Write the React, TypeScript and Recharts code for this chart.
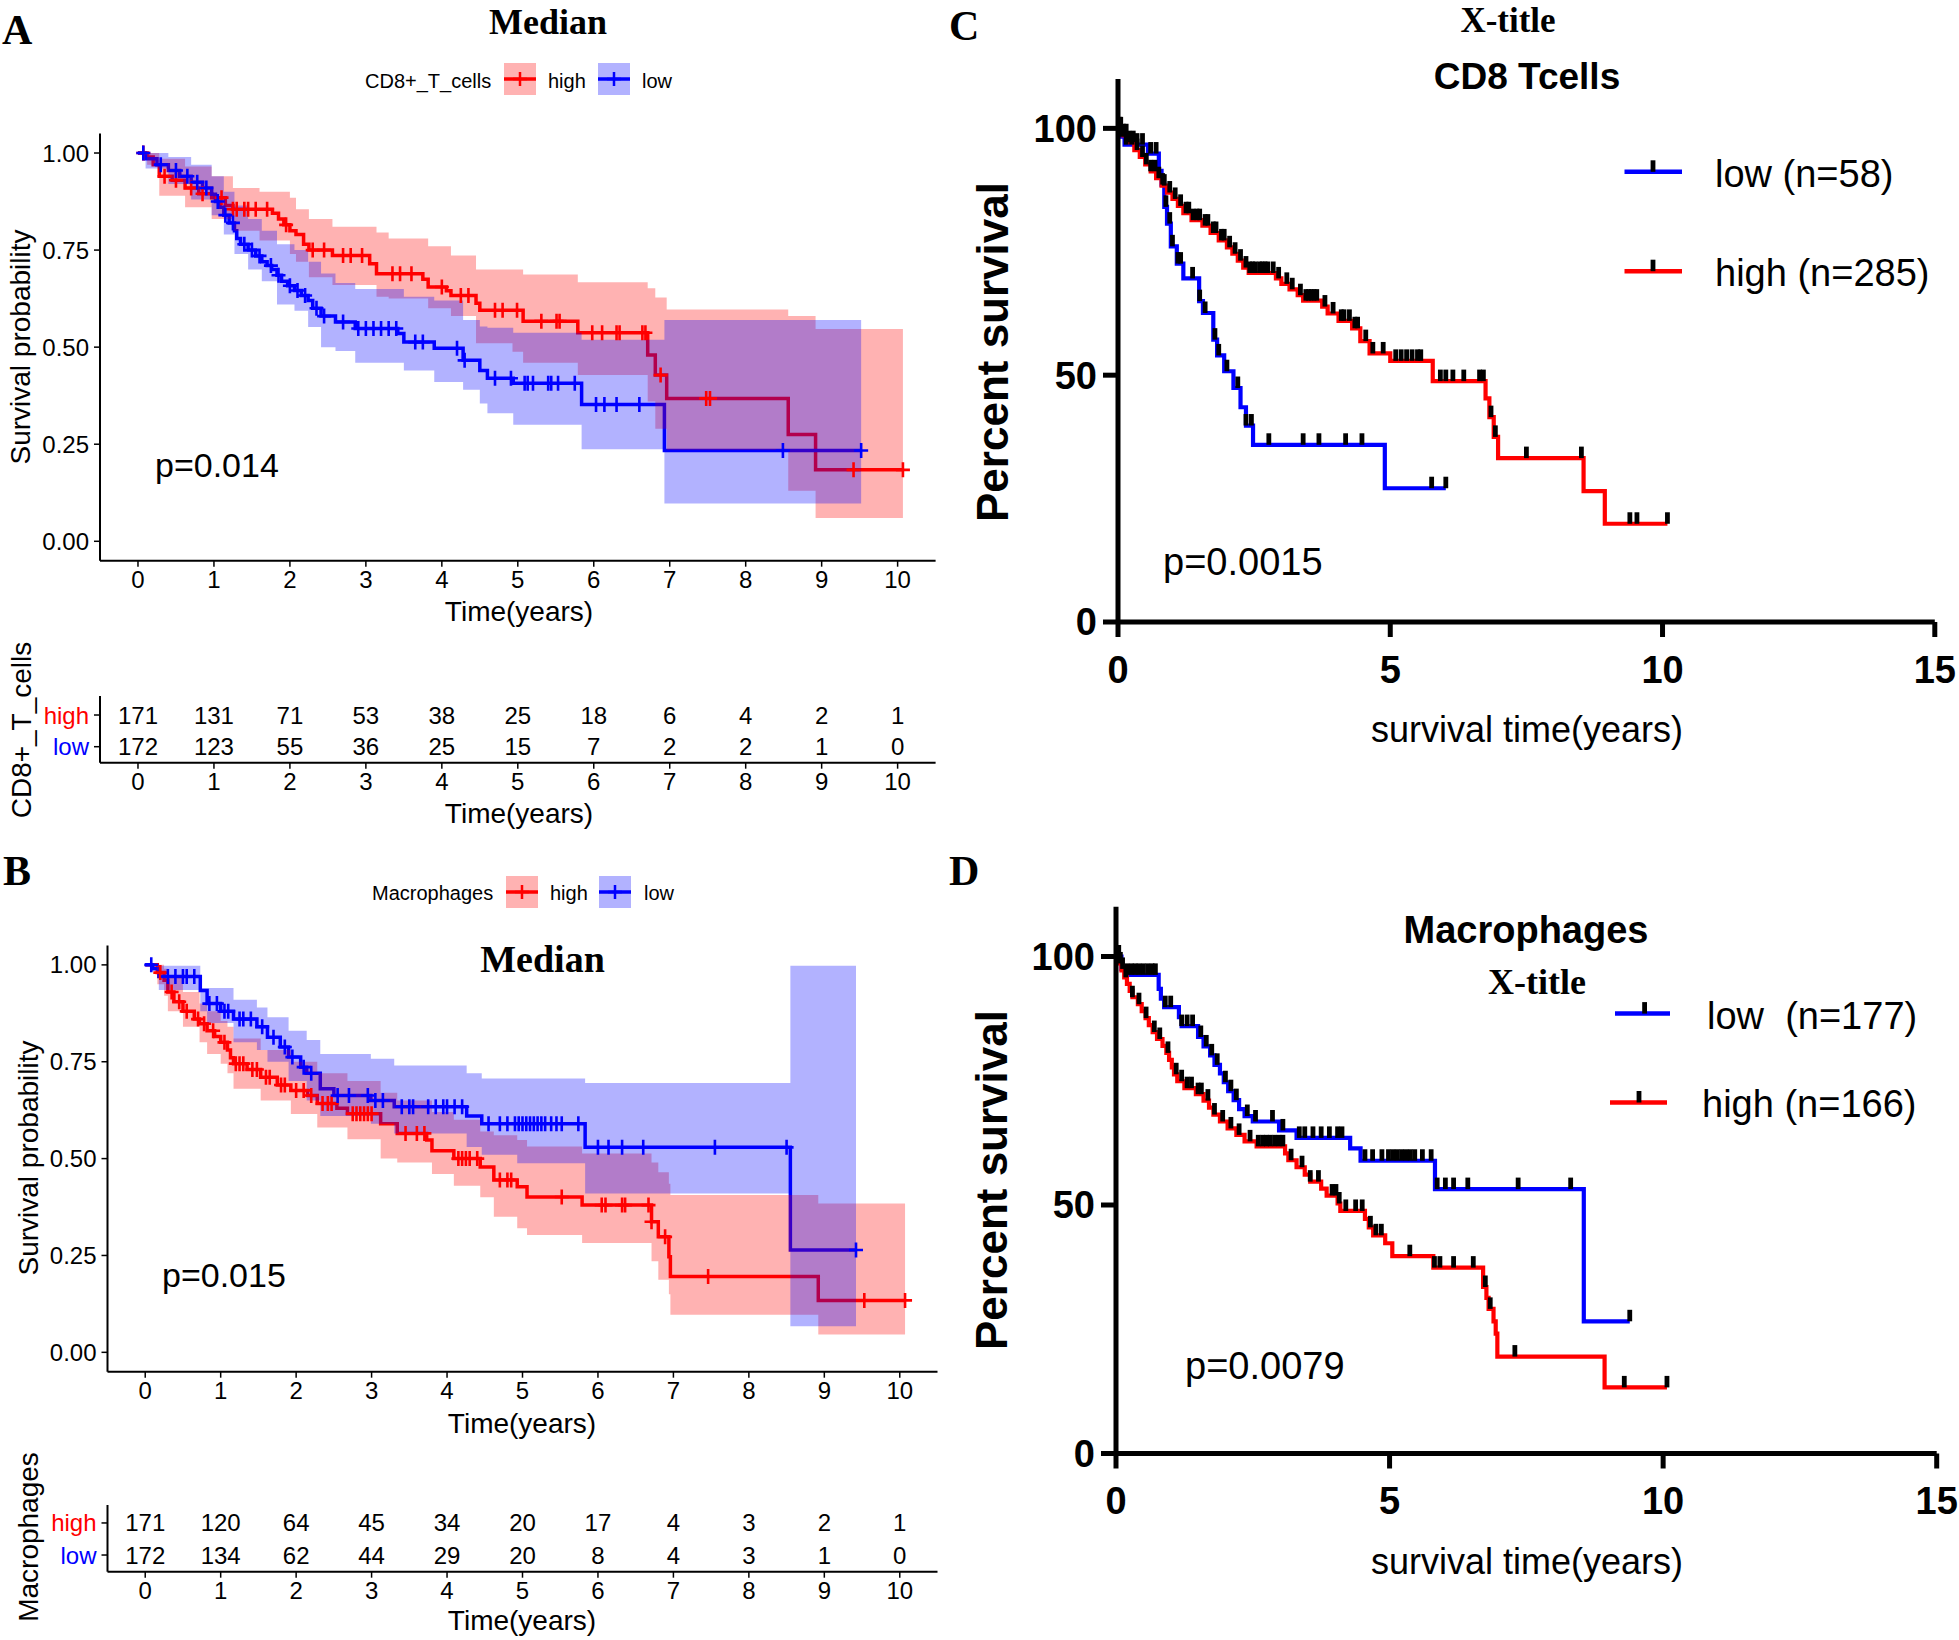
import React from 'react';
import { ComposedChart, Line, Area, Scatter, XAxis, YAxis } from 'recharts';

const SANS = '"Liberation Sans", Arial, Helvetica, sans-serif';
const SERIF = '"Liberation Serif", "Times New Roman", Times, serif';
const RED = '#FF0000';
const BLUE = '#0000FF';

// ---------------- Panel A : CD8+_T_cells (survminer) ----------------
const A_HIGH_STEPS = [[0,1],[0.12,0.99],[0.2,0.97],[0.28,0.94],[0.45,0.93],[0.62,0.91],[0.8,0.895],[0.97,0.885],[1.15,0.865],[1.25,0.855],[1.77,0.845],[1.85,0.83],[1.92,0.815],[2.0,0.8],[2.08,0.79],[2.18,0.765],[2.25,0.75],[2.56,0.736],[3.05,0.715],[3.14,0.689],[3.75,0.675],[3.82,0.655],[4.06,0.645],[4.12,0.633],[4.45,0.613],[4.5,0.595],[5.07,0.567],[5.79,0.537],[6.71,0.48],[6.81,0.428],[6.96,0.368],[8.56,0.275],[8.92,0.184],[10.07,0.184]];
const A_LOW_STEPS = [[0,1],[0.1,0.985],[0.25,0.97],[0.4,0.955],[0.55,0.94],[0.7,0.925],[0.85,0.91],[0.97,0.894],[1.02,0.875],[1.08,0.86],[1.13,0.84],[1.2,0.82],[1.27,0.8],[1.3,0.78],[1.35,0.765],[1.45,0.75],[1.55,0.735],[1.63,0.72],[1.7,0.71],[1.76,0.7],[1.83,0.685],[1.89,0.67],[1.97,0.658],[2.06,0.646],[2.15,0.633],[2.24,0.62],[2.3,0.6],[2.41,0.58],[2.6,0.565],[2.86,0.548],[3.42,0.535],[3.5,0.513],[3.9,0.497],[4.28,0.466],[4.5,0.44],[4.6,0.42],[4.94,0.407],[5.84,0.352],[6.93,0.234],[9.52,0.234]];
const A_HIGH_BAND = [[0,1,1],[0.12,0.97,1],[0.28,0.89,0.985],[0.62,0.86,0.965],[0.97,0.83,0.94],[1.25,0.8,0.91],[1.6,0.775,0.9],[2.0,0.74,0.885],[2.08,0.72,0.855],[2.25,0.68,0.83],[2.56,0.66,0.81],[3.14,0.63,0.795],[3.3,0.625,0.78],[3.82,0.6,0.76],[4.12,0.58,0.736],[4.45,0.51,0.7],[4.93,0.488,0.7],[5.07,0.46,0.687],[5.79,0.428,0.667],[6.71,0.36,0.652],[6.81,0.29,0.628],[6.96,0.235,0.597],[8.56,0.13,0.58],[8.92,0.06,0.547],[10.07,0.06,0.547]];
const A_LOW_BAND = [[0,1,1],[0.1,0.96,1],[0.4,0.92,0.99],[0.7,0.88,0.97],[0.97,0.84,0.94],[1.13,0.79,0.9],[1.27,0.74,0.865],[1.45,0.7,0.83],[1.63,0.67,0.8],[1.83,0.61,0.765],[2.06,0.594,0.75],[2.24,0.552,0.72],[2.41,0.5,0.69],[2.6,0.49,0.665],[2.86,0.46,0.65],[3.5,0.44,0.63],[3.9,0.41,0.62],[4.28,0.39,0.57],[4.5,0.355,0.553],[4.6,0.33,0.55],[4.94,0.3,0.537],[5.84,0.237,0.519],[6.93,0.097,0.57],[9.52,0.097,0.57]];
const A_HIGH_CENSOR = [0.07,0.35,0.5,0.7,0.85,1.1,1.25,1.3,1.4,1.45,1.55,1.7,1.95,2.3,2.45,2.7,2.8,2.95,3.35,3.45,3.6,4.0,4.25,4.35,4.7,4.8,4.99,5.31,5.51,5.55,5.98,6.11,6.3,6.34,6.64,6.68,6.88,7.48,7.53,9.42,10.07];
const A_LOW_CENSOR = [0.07,0.3,0.5,0.65,0.78,0.9,1.05,1.15,1.25,1.4,1.5,1.6,1.75,1.85,2.0,2.1,2.2,2.35,2.45,2.7,2.9,3.0,3.1,3.2,3.3,3.4,3.65,3.75,4.2,4.3,4.7,4.91,5.09,5.13,5.2,5.4,5.44,5.53,5.75,6.03,6.14,6.3,6.6,8.49,9.52];
const A_RISK_HIGH = [171,131,71,53,38,25,18,6,4,2,1];
const A_RISK_LOW = [172,123,55,36,25,15,7,2,2,1,0];

// ---------------- Panel B : Macrophages (survminer) ----------------
const B_HIGH_STEPS = [[0,1],[0.16,0.98],[0.25,0.96],[0.3,0.93],[0.38,0.905],[0.5,0.88],[0.65,0.86],[0.72,0.848],[0.82,0.83],[0.92,0.815],[1.0,0.8],[1.09,0.78],[1.13,0.76],[1.17,0.745],[1.35,0.73],[1.53,0.71],[1.75,0.69],[1.93,0.676],[2.15,0.663],[2.28,0.642],[2.54,0.63],[2.68,0.616],[3.12,0.59],[3.34,0.565],[3.73,0.548],[3.8,0.52],[4.09,0.5],[4.44,0.478],[4.62,0.445],[4.93,0.4275],[5.06,0.401],[5.79,0.38],[6.71,0.337],[6.8,0.298],[6.94,0.247],[6.96,0.196],[8.92,0.134],[10.07,0.134]];
const B_LOW_STEPS = [[0,1],[0.1,0.99],[0.18,0.97],[0.73,0.934],[0.82,0.9],[1.0,0.88],[1.17,0.86],[1.48,0.84],[1.62,0.813],[1.79,0.788],[1.9,0.762],[2.06,0.736],[2.14,0.72],[2.32,0.68],[2.5,0.663],[2.99,0.65],[3.3,0.634],[4.26,0.61],[4.46,0.59],[5.83,0.529],[8.55,0.264],[9.42,0.264]];
const B_HIGH_BAND = [[0,1,1],[0.16,0.95,1],[0.25,0.92,0.99],[0.3,0.88,0.97],[0.5,0.84,0.93],[0.72,0.8,0.9],[0.82,0.77,0.88],[1.0,0.745,0.855],[1.09,0.72,0.84],[1.17,0.68,0.81],[1.53,0.65,0.78],[1.93,0.615,0.75],[2.28,0.58,0.72],[2.68,0.55,0.7],[3.12,0.5,0.67],[3.34,0.49,0.65],[3.8,0.46,0.62],[4.09,0.43,0.6],[4.44,0.4,0.57],[4.62,0.35,0.56],[4.93,0.32,0.548],[5.06,0.303,0.531],[5.79,0.282,0.513],[6.71,0.235,0.49],[6.8,0.187,0.465],[6.94,0.15,0.435],[6.96,0.097,0.406],[8.92,0.046,0.384],[10.07,0.046,0.384]];
const B_LOW_BAND = [[0,1,1],[0.18,0.935,0.998],[0.73,0.88,0.94],[0.82,0.85,0.94],[1.17,0.8,0.91],[1.48,0.78,0.89],[1.62,0.75,0.865],[1.9,0.7,0.83],[2.14,0.65,0.806],[2.32,0.61,0.77],[2.99,0.59,0.758],[3.3,0.565,0.74],[4.26,0.53,0.72],[4.46,0.51,0.707],[4.93,0.488,0.707],[5.83,0.41,0.695],[8.55,0.067,0.998],[9.42,0.067,0.998]];
const B_HIGH_CENSOR = [0.2,0.35,0.45,0.55,0.7,0.78,0.9,1.05,1.2,1.25,1.3,1.42,1.48,1.6,1.65,1.8,1.85,2.0,2.1,2.2,2.35,2.42,2.47,2.75,2.8,2.85,2.9,2.95,3.0,3.45,3.6,3.7,4.15,4.2,4.25,4.3,4.4,4.7,4.8,4.85,5.52,6.05,6.1,6.32,6.36,6.67,6.71,6.89,7.46,9.53,10.07];
const B_LOW_CENSOR = [0.08,0.3,0.4,0.5,0.55,0.65,0.85,0.95,1.05,1.1,1.25,1.3,1.4,1.55,1.7,1.85,1.95,2.1,2.2,2.55,2.7,2.95,3.05,3.15,3.4,3.5,3.55,3.75,3.85,3.95,4.0,4.1,4.2,4.55,4.7,4.8,4.9,4.95,5.0,5.05,5.1,5.15,5.2,5.25,5.3,5.38,5.45,5.52,5.74,6.0,6.14,6.32,6.6,7.55,8.5,9.42];
const B_RISK_HIGH = [171,120,64,45,34,20,17,4,3,2,1];
const B_RISK_LOW = [172,134,62,44,29,20,8,4,3,1,0];

// ---------------- Panel C : CD8 Tcells (Prism) ----------------
const C_LOW_STEPS = [[0,100],[0.05,98.3],[0.12,96.7],[0.55,94.9],[0.75,91.4],[0.8,88.6],[0.85,84.1],[0.9,80.7],[0.97,76.1],[1.08,72.6],[1.2,69.6],[1.49,65.0],[1.56,62.6],[1.75,57.2],[1.82,54.0],[1.95,50.8],[2.12,47.4],[2.25,43.5],[2.35,39.8],[2.48,35.9],[4.9,27.1],[6.02,27.1]];
const C_HIGH_STEPS = [[0,100],[0.1,98.6],[0.2,97.2],[0.3,95.6],[0.4,94.2],[0.5,92.7],[0.6,91.3],[0.7,89.9],[0.8,88.4],[0.9,87],[1.0,85.7],[1.1,84.3],[1.2,82.8],[1.35,81.4],[1.55,80.3],[1.7,78.8],[1.85,77.3],[2.0,75.9],[2.1,74.6],[2.2,73.2],[2.3,71.8],[2.4,70.7],[2.9,69.6],[3.0,68.5],[3.15,67.4],[3.3,66.2],[3.4,65.1],[3.75,63.9],[3.85,62.5],[4.05,61.0],[4.3,59.5],[4.45,56.9],[4.62,54.4],[5.0,52.9],[5.78,48.8],[6.75,45.3],[6.82,41.5],[6.9,37.5],[6.98,33.2],[8.55,26.5],[8.94,19.9],[10.09,19.9]];
const C_LOW_CENSOR = [0.03,0.08,0.15,0.25,0.35,0.45,0.6,0.7,0.82,0.88,0.95,1.0,1.1,1.15,1.37,1.5,1.6,1.78,1.85,2.0,2.2,2.35,2.45,2.77,3.4,3.69,4.18,4.48,5.76,6.02];
const C_HIGH_CENSOR = [0.05,0.1,0.15,0.2,0.28,0.35,0.45,0.52,0.6,0.68,0.75,0.85,0.95,1.05,1.15,1.25,1.3,1.38,1.45,1.5,1.6,1.65,1.75,1.8,1.9,1.95,2.05,2.15,2.25,2.35,2.42,2.47,2.52,2.6,2.65,2.7,2.75,2.85,2.95,3.1,3.2,3.35,3.45,3.5,3.55,3.6,3.65,3.8,3.95,4.1,4.15,4.25,4.35,4.4,4.55,4.68,4.87,5.1,5.2,5.3,5.4,5.5,5.56,5.92,6.02,6.15,6.35,6.64,6.71,6.85,6.93,7.5,8.51,9.4,9.53,10.09];

// ---------------- Panel D : Macrophages (Prism) ----------------
const D_LOW_STEPS = [[0,100],[0.1,97.5],[0.2,96.3],[0.78,93.5],[0.82,91.5],[0.88,89.8],[1.15,87.8],[1.2,86],[1.5,83.8],[1.6,81.9],[1.72,80.1],[1.8,78.2],[1.9,76.5],[1.97,74.7],[2.05,72.9],[2.15,71.1],[2.25,69.3],[2.35,67.9],[2.5,66.8],[2.98,65.0],[3.3,63.5],[4.28,61.4],[4.47,58.9],[5.83,53.2],[8.55,26.6],[9.39,26.6]];
const D_HIGH_STEPS = [[0,100],[0.05,98.6],[0.1,97.2],[0.15,95.8],[0.2,94.5],[0.25,93.1],[0.3,91.8],[0.4,90.4],[0.47,89],[0.54,87.6],[0.6,86.2],[0.67,84.8],[0.75,83.4],[0.85,82],[0.92,80.6],[0.97,79.2],[1.02,77.7],[1.06,76.3],[1.12,74.9],[1.25,73.5],[1.46,72.3],[1.6,71],[1.7,69.6],[1.78,68.2],[1.9,66.8],[2.04,65.4],[2.2,64.1],[2.35,62.8],[2.57,61.8],[3.09,60.4],[3.15,59],[3.3,57.6],[3.45,56.1],[3.55,54.7],[3.75,53.3],[3.85,51.9],[4.05,50.3],[4.1,48.8],[4.55,47.2],[4.62,45.5],[4.7,43.9],[4.92,42.3],[5.05,39.7],[5.8,37.4],[6.71,33.5],[6.77,31.3],[6.81,29.1],[6.9,26.6],[6.94,24.1],[6.97,19.5],[8.93,13.3],[10.07,13.3]];
const D_LOW_CENSOR = [0.05,0.12,0.2,0.28,0.35,0.42,0.5,0.58,0.66,0.72,0.9,1.0,1.2,1.3,1.4,1.55,1.65,1.75,1.85,2.0,2.1,2.2,2.4,2.55,2.86,3.05,3.35,3.45,3.6,3.75,3.9,4.05,4.13,4.55,4.69,4.86,4.98,5.06,5.14,5.22,5.3,5.38,5.46,5.6,5.76,5.87,6.02,6.17,6.43,7.35,8.31,9.39];
const D_HIGH_CENSOR = [0.08,0.18,0.3,0.42,0.55,0.7,0.8,0.95,1.1,1.2,1.3,1.38,1.5,1.56,1.68,1.8,1.95,2.1,2.25,2.45,2.6,2.68,2.75,2.82,2.9,2.98,3.05,3.2,3.4,3.55,3.7,3.95,4.02,4.08,4.2,4.38,4.5,4.65,4.75,4.85,5.37,5.82,5.92,6.17,6.53,6.75,6.84,7.29,9.29,10.07];

const YEARS = [0,1,2,3,4,5,6,7,8,9,10];
const SURV_TICKS = [0, 0.25, 0.5, 0.75, 1];
const PRISM_X_TICKS = [0, 5, 10, 15];
const PRISM_Y_TICKS = [0, 50, 100];

// ---------------- helpers ----------------
function stepAt(steps: number[][], t: number) {
  let v = steps[0][1];
  for (const [x, y] of steps) {
    if (x <= t + 1e-9) v = y; else break;
  }
  return v;
}
const toLine = (steps: number[][]) => steps.map(([t, s]) => ({ t, s }));
const toBand = (b: number[][]) => b.map(([t, lo, hi]) => ({ t, band: [lo, hi] }));
const toCensor = (times: number[], steps: number[][]) => times.map((t) => ({ t, s: stepAt(steps, t) }));

function marginFor(frame: any, plot: any, yW: number, xH: number) {
  return {
    left: plot.x0 - frame.left - yW,
    top: plot.y0 - frame.top,
    right: frame.left + frame.width - plot.x1,
    bottom: frame.top + frame.height - plot.y1 - xH,
  };
}

const plusShape = (color: string) => (p: any) => {
  const { cx, cy } = p;
  if (cx == null || cy == null) return <g />;
  return <path d={`M${cx - 7},${cy}H${cx + 7}M${cx},${cy - 7.5}V${cy + 7.5}`} stroke={color} strokeWidth={2.6} fill="none" />;
};
const redPlus = plusShape(RED);
const bluePlus = plusShape(BLUE);

const prismTick = (p: any) => {
  const { cx, cy } = p;
  if (cx == null || cy == null) return <g />;
  return <rect x={cx - 2.4} y={cy - 11.5} width={4.8} height={11.5} fill="#000" />;
};

const numShape = (p: any) => {
  const { cx, cy, payload } = p;
  if (cx == null || cy == null) return <g />;
  return (
    <text x={cx} y={cy} dy="0.355em" textAnchor="middle" fontSize={24} fontFamily={SANS} fill="#000">
      {payload.n}
    </text>
  );
};

const RiskTick = (p: any) => {
  const { x, y, payload } = p;
  const isHigh = payload.value === 2;
  return (
    <text x={x} y={y} dy="0.355em" textAnchor="end" fontSize={24} fontFamily={SANS} fill={isHigh ? RED : BLUE}>
      {isHigh ? 'high' : 'low'}
    </text>
  );
};

const axisLine = { stroke: '#000', strokeWidth: 2 };
const tickLine = { stroke: '#000', strokeWidth: 1.5 };
const survTick = { fontSize: 24, fill: '#000', fontFamily: SANS };

function SurvChart({ frame, plot, hs, ls, hb, lb, hc, lc }: any) {
  const m = marginFor(frame, plot, 90, 50);
  return (
    <div style={{ position: 'absolute', left: frame.left, top: frame.top }}>
      <ComposedChart width={frame.width} height={frame.height} margin={m}>
        <Line data={toLine(hs)} dataKey="s" type="stepAfter" stroke={RED} strokeWidth={3.5} dot={false} activeDot={false} isAnimationActive={false} zIndex={400} />
        <Line data={toLine(ls)} dataKey="s" type="stepAfter" stroke={BLUE} strokeWidth={3.5} dot={false} activeDot={false} isAnimationActive={false} zIndex={400} />
        <Area data={toBand(hb)} dataKey="band" type="stepAfter" stroke="none" fill={RED} fillOpacity={0.3} dot={false} activeDot={false} isAnimationActive={false} zIndex={450} />
        <Area data={toBand(lb)} dataKey="band" type="stepAfter" stroke="none" fill={BLUE} fillOpacity={0.3} dot={false} activeDot={false} isAnimationActive={false} zIndex={450} />
        <Scatter data={toCensor(hc, hs)} dataKey="s" shape={redPlus} isAnimationActive={false} />
        <Scatter data={toCensor(lc, ls)} dataKey="s" shape={bluePlus} isAnimationActive={false} />
        <XAxis type="number" dataKey="t" domain={[-0.5, 10.5]} ticks={YEARS} interval={0} allowDataOverflow height={50} tickSize={6} tickMargin={4} axisLine={axisLine} tickLine={tickLine} tick={survTick} />
        <YAxis type="number" domain={[-0.05, 1.05]} ticks={SURV_TICKS} interval={0} allowDataOverflow width={90} tickSize={6} tickMargin={5} axisLine={axisLine} tickLine={tickLine} tick={survTick} tickFormatter={(v: number) => v.toFixed(2)} />
      </ComposedChart>
    </div>
  );
}

function RiskChart({ frame, plot, high, low, yDomain }: any) {
  const m = marginFor(frame, plot, 90, 45);
  const hd = YEARS.map((t, i) => ({ t, s: 2, n: high[i] }));
  const ld = YEARS.map((t, i) => ({ t, s: 1, n: low[i] }));
  return (
    <div style={{ position: 'absolute', left: frame.left, top: frame.top }}>
      <ComposedChart width={frame.width} height={frame.height} margin={m}>
        <Scatter data={hd} dataKey="s" shape={numShape} isAnimationActive={false} />
        <Scatter data={ld} dataKey="s" shape={numShape} isAnimationActive={false} />
        <XAxis type="number" dataKey="t" domain={[-0.5, 10.5]} ticks={YEARS} interval={0} allowDataOverflow height={45} tickSize={6} tickMargin={4} axisLine={axisLine} tickLine={tickLine} tick={survTick} />
        <YAxis type="number" domain={yDomain} ticks={[1, 2]} interval={0} allowDataOverflow width={90} tickSize={6} tickMargin={5} axisLine={axisLine} tickLine={tickLine} tick={<RiskTick />} />
      </ComposedChart>
    </div>
  );
}

const prismAxis = { stroke: '#000', strokeWidth: 5 };
const prismTickStyle = { fontSize: 38, fontWeight: 700, fill: '#000', fontFamily: SANS };

function PrismChart({ frame, plot, ls, hs, lc, hc }: any) {
  const m = marginFor(frame, plot, 120, 70);
  const cens = [...toCensor(lc, ls), ...toCensor(hc, hs)];
  return (
    <div style={{ position: 'absolute', left: frame.left, top: frame.top }}>
      <ComposedChart width={frame.width} height={frame.height} margin={m}>
        <Line data={toLine(ls)} dataKey="s" type="stepAfter" stroke={BLUE} strokeWidth={4.2} dot={false} activeDot={false} isAnimationActive={false} />
        <Line data={toLine(hs)} dataKey="s" type="stepAfter" stroke={RED} strokeWidth={4.2} dot={false} activeDot={false} isAnimationActive={false} />
        <Scatter data={cens} dataKey="s" shape={prismTick} isAnimationActive={false} />
        <XAxis type="number" dataKey="t" domain={[0, 15]} ticks={PRISM_X_TICKS} interval={0} allowDataOverflow height={70} tickSize={15} tickMargin={19} axisLine={prismAxis} tickLine={prismAxis} tick={prismTickStyle} />
        <YAxis type="number" domain={[0, 110]} ticks={PRISM_Y_TICKS} interval={0} allowDataOverflow width={120} tickSize={15} tickMargin={6} axisLine={prismAxis} tickLine={prismAxis} tick={prismTickStyle} />
      </ComposedChart>
    </div>
  );
}

function Txt({ x, y, size, children, family = SANS, weight = 400, anchor = 'start', fill = '#000', rot = false, base = 'auto', pre = false }: any) {
  const style: any = pre ? { whiteSpace: 'pre' } : undefined;
  if (rot) {
    return (
      <text transform={`translate(${x},${y}) rotate(-90)`} textAnchor="middle" dominantBaseline="central" fontSize={size} fontFamily={family} fontWeight={weight} fill={fill} style={style}>
        {children}
      </text>
    );
  }
  return (
    <text x={x} y={y} textAnchor={anchor} dominantBaseline={base} fontSize={size} fontFamily={family} fontWeight={weight} fill={fill} style={style}>
      {children}
    </text>
  );
}

function SurvKey({ x, y, color }: any) {
  return (
    <g>
      <rect x={x} y={y} width={32} height={32} fill={color} fillOpacity={0.3} />
      <line x1={x} x2={x + 32} y1={y + 16} y2={y + 16} stroke={color} strokeWidth={3.5} />
      <path d={`M${x + 9},${y + 16}H${x + 23}M${x + 16},${y + 9}V${y + 23}`} stroke={color} strokeWidth={2.5} />
    </g>
  );
}

function PrismKey({ x1, x2, y, tx, color }: any) {
  return (
    <g>
      <line x1={x1} x2={x2} y1={y} y2={y} stroke={color} strokeWidth={4.5} />
      <rect x={tx - 2.4} y={y - 11.5} width={4.8} height={11.5} fill="#000" />
    </g>
  );
}

function Overlay() {
  return (
    <svg width={1959} height={1640} style={{ position: 'absolute', left: 0, top: 0, pointerEvents: 'none' }}>
      {/* panel letters */}
      <Txt x={2} y={44} size={42} family={SERIF} weight={700}>A</Txt>
      <Txt x={3} y={885} size={42} family={SERIF} weight={700}>B</Txt>
      <Txt x={949} y={40} size={42} family={SERIF} weight={700}>C</Txt>
      <Txt x={949} y={885} size={42} family={SERIF} weight={700}>D</Txt>

      {/* titles */}
      <Txt x={548} y={34} size={36} family={SERIF} weight={700} anchor="middle">Median</Txt>
      <Txt x={542.5} y={972} size={38} family={SERIF} weight={700} anchor="middle">Median</Txt>
      <Txt x={1508} y={32} size={35} family={SERIF} weight={700} anchor="middle">X-title</Txt>
      <Txt x={1537} y={994} size={36} family={SERIF} weight={700} anchor="middle">X-title</Txt>
      <Txt x={1527} y={88.5} size={37} weight={700} anchor="middle">CD8 Tcells</Txt>
      <Txt x={1526} y={942.6} size={38} weight={700} anchor="middle">Macrophages</Txt>

      {/* survminer legends */}
      <Txt x={365} y={80.5} size={20} base="central">CD8+_T_cells</Txt>
      <SurvKey x={504} y={63} color={RED} />
      <Txt x={548} y={80.5} size={20} base="central">high</Txt>
      <SurvKey x={598} y={63} color={BLUE} />
      <Txt x={642} y={80.5} size={20} base="central">low</Txt>

      <Txt x={372} y={892.5} size={20} base="central">Macrophages</Txt>
      <SurvKey x={506} y={876} color={RED} />
      <Txt x={550} y={892.5} size={20} base="central">high</Txt>
      <SurvKey x={599} y={876} color={BLUE} />
      <Txt x={644} y={892.5} size={20} base="central">low</Txt>

      {/* p values */}
      <Txt x={155} y={477} size={34}>p=0.014</Txt>
      <Txt x={162} y={1287} size={34}>p=0.015</Txt>
      <Txt x={1163} y={575} size={38}>p=0.0015</Txt>
      <Txt x={1185} y={1379} size={38}>p=0.0079</Txt>

      {/* survminer axis titles */}
      <Txt x={20} y={347} size={28} rot>Survival probability</Txt>
      <Txt x={519} y={611} size={28} anchor="middle" base="central">Time(years)</Txt>
      <Txt x={21} y={730} size={28} rot>CD8+_T_cells</Txt>
      <Txt x={519} y={813} size={28} anchor="middle" base="central">Time(years)</Txt>
      <Txt x={28} y={1158} size={28} rot>Survival probability</Txt>
      <Txt x={522} y={1423} size={28} anchor="middle" base="central">Time(years)</Txt>
      <Txt x={28} y={1537} size={28} rot>Macrophages</Txt>
      <Txt x={522} y={1620} size={28} anchor="middle" base="central">Time(years)</Txt>

      {/* prism axis titles */}
      <Txt x={992} y={352} size={44} weight={700} rot>Percent survival</Txt>
      <Txt x={1527} y={729} size={36} anchor="middle" base="central">survival time(years)</Txt>
      <Txt x={991} y={1180} size={44} weight={700} rot>Percent survival</Txt>
      <Txt x={1527} y={1561} size={36} anchor="middle" base="central">survival time(years)</Txt>

      {/* prism legends */}
      <PrismKey x1={1624.5} x2={1682} y={171.8} tx={1653} color={BLUE} />
      <Txt x={1715} y={174} size={38} base="central">low (n=58)</Txt>
      <PrismKey x1={1624.5} x2={1682} y={271.2} tx={1653} color={RED} />
      <Txt x={1715} y={273} size={38} base="central">high (n=285)</Txt>

      <PrismKey x1={1615} x2={1670} y={1013.6} tx={1644.6} color={BLUE} />
      <Txt x={1707} y={1016} size={38} base="central" pre>{'low  (n=177)'}</Txt>
      <PrismKey x1={1610} x2={1667} y={1102.5} tx={1639} color={RED} />
      <Txt x={1702} y={1104} size={38} base="central">high (n=166)</Txt>
    </svg>
  );
}

export default function App() {
  return (
    <div style={{ position: 'absolute', left: 0, top: 0, width: 1959, height: 1640, background: '#fff', overflow: 'hidden' }}>
      <SurvChart
        frame={{ left: 0, top: 120, width: 960, height: 510 }}
        plot={{ x0: 100, y0: 133.6, x1: 935.6, y1: 560.7 }}
        hs={A_HIGH_STEPS} ls={A_LOW_STEPS} hb={A_HIGH_BAND} lb={A_LOW_BAND} hc={A_HIGH_CENSOR} lc={A_LOW_CENSOR}
      />
      <RiskChart
        frame={{ left: 0, top: 680, width: 960, height: 140 }}
        plot={{ x0: 100, y0: 696, x1: 935.6, y1: 762.7 }}
        high={A_RISK_HIGH} low={A_RISK_LOW} yDomain={[0.495, 2.6]}
      />
      <SurvChart
        frame={{ left: 0, top: 930, width: 960, height: 510 }}
        plot={{ x0: 107.5, y0: 945.5, x1: 937.5, y1: 1371.7 }}
        hs={B_HIGH_STEPS} ls={B_LOW_STEPS} hb={B_HIGH_BAND} lb={B_LOW_BAND} hc={B_HIGH_CENSOR} lc={B_LOW_CENSOR}
      />
      <RiskChart
        frame={{ left: 0, top: 1490, width: 960, height: 140 }}
        plot={{ x0: 107.5, y0: 1505, x1: 937.5, y1: 1571.7 }}
        high={B_RISK_HIGH} low={B_RISK_LOW} yDomain={[0.48, 2.56]}
      />
      <PrismChart
        frame={{ left: 960, top: 60, width: 999, height: 660 }}
        plot={{ x0: 1118, y0: 79, x1: 1934.8, y1: 622 }}
        ls={C_LOW_STEPS} hs={C_HIGH_STEPS} lc={C_LOW_CENSOR} hc={C_HIGH_CENSOR}
      />
      <PrismChart
        frame={{ left: 960, top: 890, width: 999, height: 660 }}
        plot={{ x0: 1116, y0: 906.8, x1: 1936.7, y1: 1453.5 }}
        ls={D_LOW_STEPS} hs={D_HIGH_STEPS} lc={D_LOW_CENSOR} hc={D_HIGH_CENSOR}
      />
      <Overlay />
    </div>
  );
}
